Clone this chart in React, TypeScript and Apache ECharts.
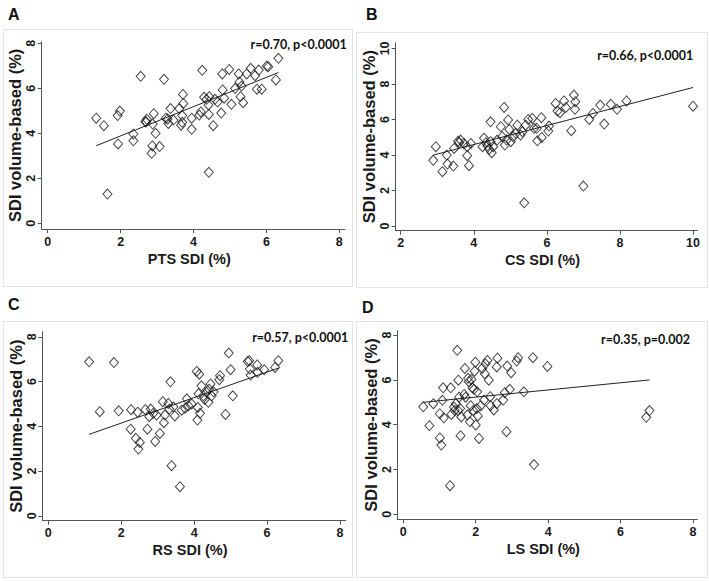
import React, { useEffect, useRef } from "react";
import * as echarts from "echarts";

// ---- data ----
const pointsA: [number, number][] = [
  [1.33, 4.67], [1.54, 4.34], [1.64, 1.3], [1.93, 3.53], [1.92, 4.79], [1.98, 4.99],
  [2.35, 3.97], [2.35, 3.67], [2.55, 6.53], [2.68, 4.53], [2.72, 4.62], [2.85, 3.11],
  [2.87, 3.44], [2.91, 4.87], [2.88, 4.41], [2.96, 4.0], [3.07, 3.41], [3.19, 6.4],
  [3.24, 4.67], [3.29, 4.64], [3.31, 4.44], [3.37, 5.1], [3.45, 4.59], [3.61, 5.1],
  [3.66, 4.36], [3.69, 4.49], [3.71, 5.73], [3.72, 5.33], [3.69, 4.79], [3.95, 4.67],
  [3.95, 4.18], [4.16, 4.81], [4.2, 4.95], [4.24, 6.8], [4.29, 5.6], [4.36, 5.51],
  [4.41, 5.26], [4.42, 4.84], [4.42, 2.27], [4.43, 5.63], [4.54, 4.34], [4.59, 5.51],
  [4.66, 5.39], [4.76, 4.9], [4.79, 6.64], [4.8, 5.93], [4.84, 5.56], [4.98, 6.84],
  [5.04, 5.29], [5.14, 5.99], [5.24, 6.64], [5.26, 6.28], [5.29, 5.63], [5.32, 6.1],
  [5.36, 5.36], [5.46, 6.64], [5.57, 6.89], [5.69, 6.56], [5.74, 5.96], [5.79, 6.81],
  [5.87, 5.96], [6.01, 6.99], [6.05, 6.96], [6.26, 6.37], [6.33, 7.33], [2.7, 4.5],
];
const fitA: [number, number][] = [[1.33, 3.45], [6.33, 6.7]];

const pointsB: [number, number][] = [
  [2.89, 3.7], [2.96, 4.47], [3.14, 3.06], [3.26, 4.0], [3.28, 3.49], [3.44, 3.38],
  [3.46, 4.37], [3.57, 4.78], [3.6, 4.69], [3.64, 4.84], [3.73, 4.65], [3.82, 4.47],
  [3.82, 3.96], [3.87, 3.4], [3.92, 4.65], [4.24, 4.47], [4.28, 4.95], [4.33, 4.69],
  [4.37, 4.52], [4.42, 4.33], [4.46, 5.87], [4.49, 4.13], [4.46, 4.75], [4.53, 4.47],
  [4.64, 4.84], [4.74, 5.59], [4.78, 5.03], [4.83, 6.68], [4.85, 4.56], [4.9, 4.84],
  [4.94, 5.97], [4.97, 5.44], [5.01, 4.75], [5.08, 5.03], [5.15, 5.22], [5.19, 5.68],
  [5.28, 5.12], [5.33, 5.31], [5.38, 1.31], [5.42, 5.68], [5.49, 6.0], [5.6, 6.06],
  [5.65, 5.5], [5.72, 5.5], [5.74, 4.8], [5.85, 6.1], [5.86, 4.99], [6.04, 5.35],
  [6.06, 5.63], [6.24, 6.9], [6.29, 6.47], [6.36, 6.38], [6.47, 7.04], [6.52, 6.68],
  [6.67, 5.37], [6.74, 7.37], [6.77, 6.57], [6.78, 7.0], [7.0, 2.25], [7.16, 6.0],
  [7.26, 6.34], [7.46, 6.81], [7.57, 5.74], [7.75, 6.85], [7.92, 6.57], [8.18, 7.04],
  [10.0, 6.75],
];
const fitB: [number, number][] = [[2.9, 4.0], [10.0, 7.8]];

const pointsC: [number, number][] = [
  [1.12, 6.88], [1.41, 4.65], [1.8, 6.85], [1.93, 4.69], [2.26, 3.87], [2.27, 4.74],
  [2.4, 3.46], [2.45, 4.63], [2.47, 2.98], [2.51, 3.28], [2.66, 4.74], [2.72, 3.87],
  [2.77, 4.43], [2.81, 4.77], [2.88, 4.58], [2.93, 3.32], [2.97, 4.5], [3.06, 3.68],
  [3.14, 5.1], [3.17, 4.16], [3.2, 4.5], [3.29, 5.02], [3.32, 4.77], [3.35, 5.99],
  [3.38, 2.24], [3.43, 4.87], [3.47, 4.46], [3.61, 1.3], [3.66, 4.72], [3.75, 4.8],
  [3.8, 5.23], [3.84, 4.92], [3.93, 5.0], [4.07, 6.45], [4.09, 4.28], [4.1, 4.84],
  [4.12, 5.45], [4.14, 6.33], [4.16, 4.58], [4.2, 5.81], [4.25, 5.36], [4.29, 5.2],
  [4.34, 5.52], [4.39, 5.07], [4.41, 5.66], [4.45, 5.89], [4.48, 5.36], [4.53, 5.54],
  [4.69, 6.08], [4.71, 6.26], [4.86, 4.53], [4.95, 7.27], [5.0, 6.53], [5.06, 5.36],
  [5.47, 6.89], [5.51, 6.93], [5.53, 6.56], [5.55, 6.29], [5.73, 6.74], [5.74, 6.41],
  [5.92, 6.53], [6.22, 6.63], [6.31, 6.93],
];
const fitC: [number, number][] = [[1.12, 3.64], [6.31, 6.6]];

const pointsD: [number, number][] = [
  [0.55, 4.8], [0.83, 4.94], [0.72, 3.96], [1.01, 3.41], [1.05, 3.09], [1.01, 4.49],
  [1.08, 5.09], [1.1, 5.65], [1.12, 4.31], [1.29, 1.28], [1.31, 5.65], [1.33, 4.46],
  [1.4, 4.79], [1.42, 4.64], [1.45, 4.94], [1.49, 7.32], [1.51, 4.64], [1.52, 5.99],
  [1.54, 5.23], [1.57, 4.72], [1.58, 3.51], [1.6, 4.35], [1.68, 5.35], [1.7, 6.51],
  [1.72, 5.23], [1.77, 4.43], [1.79, 6.07], [1.81, 5.92], [1.84, 4.13], [1.86, 4.85],
  [1.88, 6.02], [1.91, 5.65], [1.93, 4.64], [1.95, 5.58], [1.97, 6.39], [1.99, 6.79],
  [2.0, 3.99], [2.03, 4.72], [2.04, 5.47], [2.06, 4.39], [2.09, 3.39], [2.14, 4.85],
  [2.18, 6.51], [2.23, 5.1], [2.25, 6.28], [2.27, 6.72], [2.32, 6.87], [2.36, 5.99],
  [2.4, 5.25], [2.41, 4.85], [2.5, 4.66], [2.58, 4.94], [2.6, 6.97], [2.58, 6.58],
  [2.76, 5.1], [2.8, 5.43], [2.85, 3.69], [2.87, 6.62], [2.94, 5.58], [2.98, 6.32],
  [3.13, 6.84], [3.17, 6.99], [3.33, 5.47], [3.58, 6.99], [3.61, 2.22], [3.98, 6.6],
  [6.71, 4.33], [6.8, 4.63],
];
const fitD: [number, number][] = [[0.55, 5.0], [6.8, 6.0]];

const ticks0to8 = [0, 2, 4, 6, 8];
const ticks2to10 = [2, 4, 6, 8, 10];
const ticks0to10 = [0, 2, 4, 6, 8, 10];

const panelLetters = ["A", "B", "C", "D"];
const xTitles = ["PTS SDI (%)", "CS SDI (%)", "RS SDI (%)", "LS SDI (%)"];
const yTitle = "SDI volume-based (%)";
const stats = ["r=0.70, p<0.0001", "r=0.66, p<0.0001", "r=0.57, p<0.0001", "r=0.35, p=0.002"];

// ---- layout / style ----
const F = "'Liberation Sans', Arial, sans-serif";
const AXIS_COLOR = "#555";
const TEXT_COLOR = "#1a1a1a";

const grids = [
  { left: 41.7, top: 41.7, width: 303.3, height: 187.3 },
  { left: 395.7, top: 42.7, width: 301.7, height: 188 },
  { left: 42.3, top: 331.7, width: 303.5, height: 189 },
  { left: 397.3, top: 330.7, width: 300, height: 188.6 },
];
const xRanges = [[-0.165, 8.156], [1.863, 10.12], [-0.165, 8.16], [-0.166, 8.12]];
const yRanges = [[-0.25, 8.07], [-0.26, 10.32], [-0.22, 8.227], [-0.22, 8.196]];
const xTicks = [ticks0to8, ticks2to10, ticks0to8, ticks0to8];
const yTicks = [ticks0to8, ticks0to10, ticks0to8, ticks0to8];

const borders = [
  [3, 29, 349, 257],
  [356, 32, 351, 255],
  [3, 321, 349, 256],
  [356, 321, 351, 256],
];
const letterPos = [[8, 14], [366, 14], [8, 304], [362, 307]];
const statPos = [[346.7, 44], [693.3, 55], [348.3, 337], [690, 339.5]];

export default function App() {
  const ref = useRef<HTMLDivElement>(null);
  useEffect(() => {
    document.body.style.margin = "0";
    if (!ref.current) return;
    const chart = echarts.init(ref.current, null, { renderer: "svg" });
    const allPoints = [pointsA, pointsB, pointsC, pointsD];
    const fits = [fitA, fitB, fitC, fitD];

    const xAxis = grids.map((_, i) => ({
      type: "value",
      gridIndex: i,
      min: xRanges[i][0],
      max: xRanges[i][1],
      name: xTitles[i],
      nameLocation: "middle",
      nameGap: 22,
      nameTextStyle: { fontFamily: F, fontWeight: "bold", fontSize: 14.5, color: TEXT_COLOR, padding: [0, 8, 0, 0] },
      axisLine: { onZero: false, lineStyle: { color: AXIS_COLOR, width: 1 } },
      axisTick: { show: true, length: 4, customValues: xTicks[i], lineStyle: { color: AXIS_COLOR } },
      axisLabel: { customValues: xTicks[i], fontFamily: F, fontWeight: "bold", fontSize: 12.5, color: TEXT_COLOR, margin: 6 },
      splitLine: { show: false },
    }));
    const yAxis = grids.map((_, i) => ({
      type: "value",
      gridIndex: i,
      min: yRanges[i][0],
      max: yRanges[i][1],
      name: yTitle,
      nameLocation: "middle",
      nameRotate: 90,
      nameGap: 18,
      nameTextStyle: { fontFamily: F, fontWeight: "bold", fontSize: 16.5, color: TEXT_COLOR },
      axisLine: { onZero: false, lineStyle: { color: AXIS_COLOR, width: 1 } },
      axisTick: { show: true, length: 4, customValues: yTicks[i], lineStyle: { color: AXIS_COLOR } },
      axisLabel: { customValues: yTicks[i], rotate: 90, fontFamily: F, fontWeight: "bold", fontSize: 12.5, color: TEXT_COLOR, margin: 4 },
      splitLine: { show: false },
    }));

    const series: any[] = [];
    allPoints.forEach((pts, i) => {
      series.push({
        type: "scatter",
        xAxisIndex: i,
        yAxisIndex: i,
        data: pts,
        symbol: "diamond",
        symbolSize: [9, 10],
        itemStyle: { color: "rgba(255,255,255,0)", borderColor: "#1a1a1a", borderWidth: 1 },
        z: 3,
      });
      series.push({
        type: "line",
        xAxisIndex: i,
        yAxisIndex: i,
        data: fits[i],
        symbol: "none",
        lineStyle: { color: "#222", width: 1 },
        z: 2,
      });
    });

    const graphic: any[] = [];
    borders.forEach((b) => {
      graphic.push({
        type: "rect",
        shape: { x: b[0] + 0.5, y: b[1] + 0.5, width: b[2], height: b[3] },
        style: { fill: "none", stroke: "#e4e4e4", lineWidth: 1 },
        z: -1,
        silent: true,
      });
    });
    panelLetters.forEach((l, i) => {
      graphic.push({
        type: "text",
        x: letterPos[i][0],
        y: letterPos[i][1],
        style: { text: l, fontFamily: F, fontWeight: "bold", fontSize: 16, fill: "#111", align: "left", verticalAlign: "middle" },
      });
    });
    stats.forEach((s, i) => {
      graphic.push({
        type: "text",
        x: statPos[i][0],
        y: statPos[i][1],
        style: { text: s, fontFamily: "Lato, 'Open Sans', sans-serif", fontWeight: "bold", fontSize: 12.5, fill: "#111", align: "right", verticalAlign: "middle" },
      });
    });

    chart.setOption({
      animation: false,
      backgroundColor: "#fff",
      grid: grids.map((g) => ({ ...g, containLabel: false })),
      xAxis,
      yAxis,
      series,
      graphic,
    });
    return () => chart.dispose();
  }, []);
  return <div ref={ref} style={{ width: 709, height: 581 }} />;
}
